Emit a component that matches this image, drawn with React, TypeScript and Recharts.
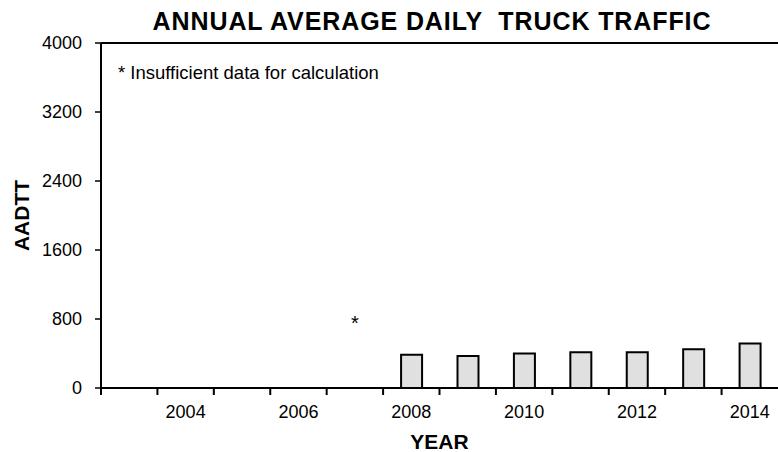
import { BarChart, Bar, XAxis, YAxis, ReferenceDot, ReferenceLine } from "recharts";

const years = ["2003", "2004", "2005", "2006", "2007", "2008", "2009", "2010", "2011", "2012", "2013", "2014"];
const aadtt = [null, null, null, null, null, 385, 370, 400, 415, 415, 450, 515];
const yTicks = [0, 800, 1600, 2400, 3200, 4000];
const insufficientYears = ["2007"];
const insufficientLevel = 800;

const chartData = years.map((year, i) => ({ year, value: aadtt[i] }));

const FONT = "'Liberation Sans', Arial, sans-serif";
const PLOT_W = 677;
const BAND = PLOT_W / years.length;

function YearTick(props: any) {
  const { x, y, payload } = props;
  const left = x - BAND / 2;
  const showLabel = Number(payload.value) % 2 === 0;
  return (
    <g>
      <line x1={left} y1={y} x2={left} y2={y + 7} stroke="#000" strokeWidth={2} />
      {showLabel && (
        <text x={x} y={y + 30} textAnchor="middle" fontSize={18} fontFamily={FONT} fill="#000">
          {payload.value}
        </text>
      )}
    </g>
  );
}

export default function App() {
  return (
    <div style={{ position: "absolute", left: 0, top: 0, width: 778, height: 452, background: "#fff", fontFamily: FONT }}>
      <BarChart
        width={778}
        height={452}
        data={chartData}
        margin={{ top: 43, right: 0, bottom: 0, left: 0 }}
        barSize={21}
      >
        <ReferenceLine y={4000} stroke="#000" strokeWidth={2} ifOverflow="extendDomain" />
        <XAxis
          dataKey="year"
          interval={0}
          height={64}
          tickSize={0}
          tickMargin={0}
          tickLine={false}
          axisLine={{ stroke: "#000", strokeWidth: 2 }}
          tick={<YearTick />}
          label={{ value: "YEAR", position: "insideBottom", offset: 3, fontSize: 21, fontWeight: "bold", fill: "#000", fontFamily: FONT }}
        />
        <YAxis
          width={101}
          domain={[0, 4000]}
          ticks={yTicks}
          tickSize={6}
          tickMargin={13}
          interval={0}
          axisLine={{ stroke: "#000", strokeWidth: 2 }}
          tickLine={{ stroke: "#000", strokeWidth: 1.5 }}
          tick={{ fontSize: 18, fill: "#000", fontFamily: FONT }}
          label={{ value: "AADTT", angle: -90, position: "center", dx: -28.5, fontSize: 21, fontWeight: "bold", fill: "#000", fontFamily: FONT }}
        />
        <Bar dataKey="value" fill="#e0e0e0" stroke="#000" strokeWidth={2} isAnimationActive={false} />
        {insufficientYears.map((yr) => (
          <ReferenceDot
            key={yr}
            x={yr}
            y={insufficientLevel}
            r={0}
            stroke="none"
            label={{ value: "*", position: "center", dy: 4, fontSize: 20, fill: "#000", fontFamily: FONT }}
          />
        ))}
      </BarChart>
      <div
        style={{
          position: "absolute",
          left: 0,
          width: 864,
          top: 6,
          textAlign: "center",
          fontSize: 25,
          letterSpacing: 0.9,
          fontWeight: "bold",
          whiteSpace: "pre",
          color: "#000",
          lineHeight: "30px",
        }}
      >
        {"ANNUAL AVERAGE DAILY  TRUCK TRAFFIC"}
      </div>
      <div style={{ position: "absolute", left: 118, top: 63, fontSize: 18.5, color: "#000", lineHeight: "20px", whiteSpace: "pre" }}>
        * Insufficient data for calculation
      </div>
    </div>
  );
}
